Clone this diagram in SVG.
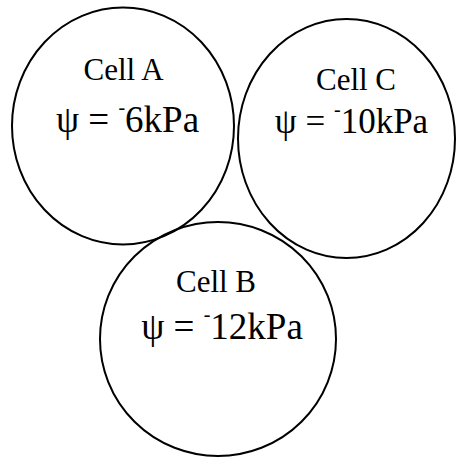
<svg xmlns="http://www.w3.org/2000/svg" width="456" height="457" viewBox="0 0 456 457">
<style>
.cell{fill:none;stroke:#000;stroke-width:2}
text{font-family:"Liberation Serif","Times New Roman",serif;fill:#000;text-anchor:middle}
.lbl{font-size:31px}
.psi{font-size:37px}
.sup{font-size:20px}
</style>
<rect width="456" height="457" fill="#fff"/>
<g id="cellA">
<ellipse class="cell" cx="123" cy="126" rx="111" ry="118.5"/>
<text class="lbl" x="123.5" y="79.5">Cell A</text>
<text class="psi" x="127.5" y="131.5">ψ = <tspan class="sup" dy="-18">-</tspan><tspan dy="18">6kPa</tspan></text>
</g>
<g id="cellC">
<ellipse class="cell" cx="346.5" cy="138.5" rx="108.5" ry="119.5"/>
<text class="lbl" x="356" y="90">Cell C</text>
<text class="psi" x="351.5" y="133" style="font-size:35px">ψ = <tspan class="sup" dy="-17">-</tspan><tspan dy="17">10kPa</tspan></text>
</g>
<g id="cellB">
<ellipse class="cell" cx="218" cy="339" rx="118" ry="117"/>
<text class="lbl" x="216" y="292">Cell B</text>
<text class="psi" x="222" y="338.5">ψ = <tspan class="sup" dy="-18">-</tspan><tspan dy="18">12kPa</tspan></text>
</g>
<g id="connectors"></g>
</svg>
